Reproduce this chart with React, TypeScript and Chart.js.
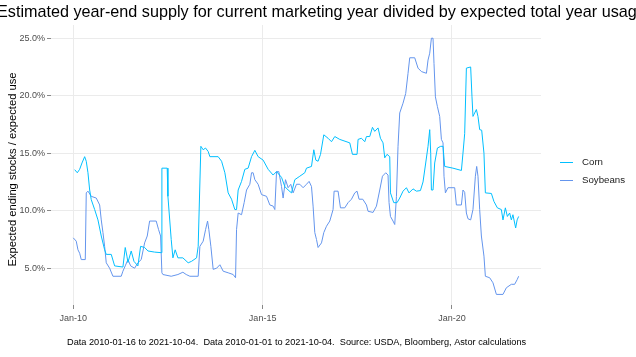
import React, { useEffect, useRef } from "react";
import { Chart, registerables } from "chart.js";

Chart.register(...registerables);

const TITLE = "Estimated year-end supply for current marketing year divided by expected total year usage";
const Y_TITLE = "Expected ending stocks / expected use";
const CAPTION = "Data 2010-01-16 to 2021-10-04.  Data 2010-01-01 to 2021-10-04.  Source: USDA, Bloomberg, Astor calculations";
const SERIES_NAMES = ["Corn", "Soybeans"];
const SERIES_COLORS = ["#00BFFF", "#6495ED"];

const X_TICKS = [2010, 2015, 2020];
const X_TICK_LABELS = ["Jan-10", "Jan-15", "Jan-20"];
const Y_TICKS = [5, 10, 15, 20, 25];

// Corn: decimal year, stocks/use (%)
const cornYears = [
  2010.037, 2010.106, 2010.169, 2010.23, 2010.301, 2010.343, 2010.388, 2010.433, 2010.475, 2010.565,
  2010.652, 2010.739, 2010.828, 2010.871, 2011.003, 2011.092, 2011.311, 2011.372, 2011.417, 2011.443,
  2011.53, 2011.602, 2011.707, 2011.778, 2011.884, 2011.971, 2012.148, 2012.322, 2012.34, 2012.48,
  2012.499, 2012.586, 2012.631, 2012.691, 2012.763, 2012.894, 2013.034, 2013.124, 2013.256, 2013.298,
  2013.369, 2013.43, 2013.493, 2013.562, 2013.607, 2013.826, 2013.916, 2014.003, 2014.09, 2014.179,
  2014.266, 2014.311, 2014.354, 2014.443, 2014.53, 2014.617, 2014.707, 2014.794, 2014.881, 2015.013,
  2015.145, 2015.277, 2015.367, 2015.499, 2015.586, 2015.673, 2015.763, 2015.85, 2015.982, 2016.113,
  2016.158, 2016.29, 2016.351, 2016.404, 2016.464, 2016.528, 2016.615, 2016.728, 2016.818, 2016.905,
  2017.037, 2017.301, 2017.372, 2017.493, 2017.52, 2017.609, 2017.697, 2017.741, 2017.828, 2017.9,
  2017.96, 2018.047, 2018.111, 2018.179, 2018.224, 2018.285, 2018.356, 2018.375, 2018.462, 2018.549,
  2018.62, 2018.707, 2018.797, 2018.865, 2018.971, 2019.061, 2019.166, 2019.235, 2019.306, 2019.367,
  2019.412, 2019.438, 2019.456, 2019.499, 2019.543, 2019.615, 2019.702, 2019.763, 2019.807, 2020.026,
  2020.248, 2020.29, 2020.335, 2020.38, 2020.493, 2020.528, 2020.554, 2020.644, 2020.686, 2020.731,
  2020.784, 2020.844, 2020.881, 2021.04, 2021.108, 2021.198, 2021.303, 2021.346, 2021.409, 2021.462,
  2021.522, 2021.567, 2021.609, 2021.681, 2021.72, 2021.76,
];
const cornValues = [
  13.57, 13.3, 13.6, 14.15, 14.7, 14.3, 13.3, 11.8, 10.96, 10.1,
  9.2, 7.8, 6.6, 6.2, 6.2, 5.2, 5.1, 6.8, 6.05, 5.5,
  6.5, 5.6, 5.2, 6.9, 6.8, 6.5, 6.4, 6.35, 13.7, 13.7,
  11.25, 7.5, 5.9, 6.6, 5.9, 5.9, 5.47, 5.6, 5.9, 6.9,
  15.6, 15.3, 15.45, 15.15, 14.7, 14.7, 14.3, 13.3, 11.55, 11.0,
  10.1, 10.1, 11.8, 12.55, 13.6, 13.7, 14.7, 15.25, 14.7, 14.4,
  13.6, 13.1, 13.4, 12.9, 12.1, 11.8, 11.55, 12.7, 13.0, 13.3,
  13.7, 13.85, 15.3, 14.4, 14.3, 14.9, 16.6, 16.3, 16.0, 16.45,
  16.2, 15.9, 14.9, 14.9, 16.2, 16.3, 16.0, 16.45, 16.45, 17.25,
  16.9, 17.2, 16.3, 15.9, 14.6, 14.9, 14.7, 11.55, 10.7, 10.7,
  11.1, 11.7, 12.0, 11.55, 11.9, 11.7, 11.75, 12.5, 14.15, 15.6,
  17.05, 15.0, 11.8, 11.8, 14.15, 15.45, 15.6, 15.6, 13.85, 13.7,
  13.5, 15.0, 16.7, 22.4, 22.5, 19.9, 18.2, 18.8, 18.2, 17.05,
  17.0, 15.0, 11.55, 11.5, 10.8, 10.25, 10.1, 9.2, 10.25, 9.5,
  9.8, 9.2, 9.65, 8.5, 9.2, 9.5,
];

// Soybeans: decimal year, stocks/use (%)
const soyYears = [
  2010.0, 2010.079, 2010.124, 2010.169, 2010.211, 2010.317, 2010.343, 2010.388, 2010.475, 2010.607,
  2010.697, 2010.739, 2010.784, 2010.828, 2010.871, 2010.96, 2011.047, 2011.266, 2011.311, 2011.372,
  2011.443, 2011.515, 2011.62, 2011.707, 2011.794, 2011.884, 2011.953, 2012.016, 2012.19, 2012.253,
  2012.306, 2012.34, 2012.367, 2012.586, 2012.763, 2012.894, 2012.982, 2013.079, 2013.298, 2013.343,
  2013.43, 2013.493, 2013.546, 2013.58, 2013.633, 2013.694, 2013.784, 2013.871, 2013.958, 2014.09,
  2014.222, 2014.285, 2014.311, 2014.354, 2014.443, 2014.512, 2014.575, 2014.662, 2014.707, 2014.749,
  2014.794, 2014.881, 2014.971, 2015.103, 2015.19, 2015.277, 2015.322, 2015.367, 2015.427, 2015.499,
  2015.541, 2015.604, 2015.673, 2015.744, 2015.805, 2015.894, 2015.982, 2016.069, 2016.158, 2016.227,
  2016.29, 2016.332, 2016.377, 2016.422, 2016.464, 2016.554, 2016.615, 2016.686, 2016.773, 2016.86,
  2016.887, 2016.992, 2017.055, 2017.169, 2017.256, 2017.346, 2017.433, 2017.493, 2017.546, 2017.644,
  2017.741, 2017.784, 2017.916, 2018.005, 2018.092, 2018.164, 2018.251, 2018.311, 2018.338, 2018.375,
  2018.443, 2018.488, 2018.533, 2018.575, 2018.62, 2018.707, 2018.778, 2018.839, 2018.884, 2019.016,
  2019.103, 2019.193, 2019.325, 2019.367, 2019.412, 2019.456, 2019.499, 2019.525, 2019.562, 2019.615,
  2019.675, 2019.72, 2019.763, 2019.789, 2019.826, 2019.894, 2020.071, 2020.116, 2020.248, 2020.29,
  2020.335, 2020.38, 2020.422, 2020.493, 2020.554, 2020.617, 2020.652, 2020.686, 2020.731, 2020.776,
  2020.844, 2020.881, 2020.995, 2021.082, 2021.172, 2021.346, 2021.435, 2021.567, 2021.654, 2021.72,
  2021.76,
];
const soyValues = [
  7.64, 7.35, 6.6, 6.3, 5.75, 5.75, 11.55, 11.7, 11.25, 11.1,
  10.5, 9.2, 8.1, 6.9, 5.47, 5.0, 4.3, 4.3, 4.74, 5.2,
  5.75, 5.2, 5.0, 5.47, 5.75, 7.2, 7.8, 9.1, 9.1, 8.35,
  7.8, 4.6, 4.45, 4.3, 4.45, 4.65, 4.45, 4.3, 4.3, 6.9,
  7.35, 8.35, 9.1, 8.35, 6.9, 4.9, 5.0, 5.3, 4.74, 4.6,
  4.45, 4.17, 8.35, 9.8, 9.65, 10.7, 11.8, 12.3, 13.3, 13.3,
  12.7, 12.3, 11.4, 11.25, 10.5, 10.4, 10.1, 13.4, 13.4, 12.1,
  11.1, 12.7, 12.0, 12.3, 11.55, 12.3, 12.3, 12.0, 12.3, 12.55,
  12.1, 10.4, 8.1, 7.5, 6.8, 7.2, 8.1, 8.65, 9.1, 10.1,
  11.7, 11.7, 10.25, 10.25, 10.7, 11.0, 11.55, 11.7, 11.0, 11.0,
  10.5, 9.95, 9.85, 10.4, 11.8, 13.0, 13.3, 13.1, 10.7, 9.5,
  9.1, 8.8, 11.25, 15.6, 18.5, 19.35, 20.2, 21.95, 23.3, 23.3,
  22.4, 22.1, 21.95, 23.1, 23.7, 25.0, 25.0, 22.8, 19.9, 19.05,
  18.2, 16.2, 15.9, 13.0, 11.55, 12.0, 12.0, 10.5, 10.5, 11.8,
  11.6, 9.8, 9.3, 9.2, 10.1, 13.0, 13.85, 13.0, 10.1, 7.8,
  6.05, 4.3, 4.17, 3.73, 2.72, 2.72, 3.3, 3.6, 3.6, 4.0,
  4.3,
];

const FONT = "'Liberation Sans', Arial, sans-serif";

const textPlugin = {
  id: "textPlugin",
  afterDraw(chart: any) {
    const ctx = chart.ctx as CanvasRenderingContext2D;
    ctx.save();
    // Title
    ctx.fillStyle = "#000000";
    ctx.font = `16.2px ${FONT}`;
    ctx.textBaseline = "middle";
    ctx.textAlign = "left";
    ctx.fillText(TITLE, -3, 13);
    // Y axis title
    ctx.save();
    ctx.translate(13, 169.5);
    ctx.rotate(-Math.PI / 2);
    ctx.textAlign = "center";
    ctx.font = `11.2px ${FONT}`;
    ctx.fillText(Y_TITLE, 0, 0);
    ctx.restore();
    // Caption
    ctx.font = `9.2px ${FONT}`;
    ctx.textAlign = "left";
    ctx.fillText(CAPTION, 67, 342);
    // Legend
    const ly = [162.5, 180.5];
    ctx.font = `9.7px ${FONT}`;
    for (let i = 0; i < SERIES_NAMES.length; i++) {
      ctx.strokeStyle = SERIES_COLORS[i];
      ctx.lineWidth = 1;
      ctx.beginPath();
      ctx.moveTo(560, ly[i]);
      ctx.lineTo(573, ly[i]);
      ctx.stroke();
      ctx.fillStyle = "#1a1a1a";
      ctx.fillText(SERIES_NAMES[i], 582, ly[i]);
    }
    ctx.restore();
  },
};

export default function App() {
  const ref = useRef<HTMLCanvasElement>(null);
  useEffect(() => {
    document.body.style.margin = "0";
    const canvas = ref.current!;
    const toPts = (xs: number[], ys: number[]) => xs.map((x, i) => ({ x, y: ys[i] }));
    const chart = new Chart(canvas, {
      type: "line",
      data: {
        datasets: [
          {
            label: SERIES_NAMES[0],
            data: toPts(cornYears, cornValues),
            borderColor: SERIES_COLORS[0],
            borderWidth: 1,
            pointRadius: 0,
            tension: 0,
          },
          {
            label: SERIES_NAMES[1],
            data: toPts(soyYears, soyValues),
            borderColor: SERIES_COLORS[1],
            borderWidth: 1,
            pointRadius: 0,
            tension: 0,
          },
        ],
      },
      options: {
        responsive: false,
        animation: false,
        layout: { padding: { left: 0, right: 95, top: 25, bottom: 0 } },
        plugins: { legend: { display: false }, title: { display: false }, tooltip: { enabled: false } },
        scales: {
          x: {
            type: "linear",
            min: 2009.412,
            max: 2022.35,
            afterBuildTicks: (s: any) => {
              s.ticks = X_TICKS.map((v) => ({ value: v }));
            },
            afterFit: (s: any) => {
              s.height = 52;
            },
            ticks: {
              callback: (v: any) => X_TICK_LABELS[X_TICKS.indexOf(Number(v))] ?? "",
              font: { family: FONT, size: 9 },
              color: "#4d4d4d",
              padding: 4,
              maxRotation: 0,
            },
            grid: { color: "#ebebeb", tickColor: "#888888", tickLength: 4, lineWidth: 1 },
            border: { display: false },
          },
          y: {
            type: "linear",
            min: 1.8,
            max: 26.15,
            afterBuildTicks: (s: any) => {
              s.ticks = Y_TICKS.map((v) => ({ value: v }));
            },
            afterFit: (s: any) => {
              s.width = 51;
            },
            ticks: {
              callback: (v: any) => Number(v).toFixed(1) + "%",
              font: { family: FONT, size: 9 },
              color: "#4d4d4d",
              padding: 2,
            },
            grid: { color: "#ebebeb", tickColor: "#888888", tickLength: 4, lineWidth: 1 },
            border: { display: false },
          },
        },
      },
      plugins: [textPlugin],
    });
    return () => chart.destroy();
  }, []);
  return <canvas ref={ref} width={636} height={357} style={{ display: "block" }} />;
}
